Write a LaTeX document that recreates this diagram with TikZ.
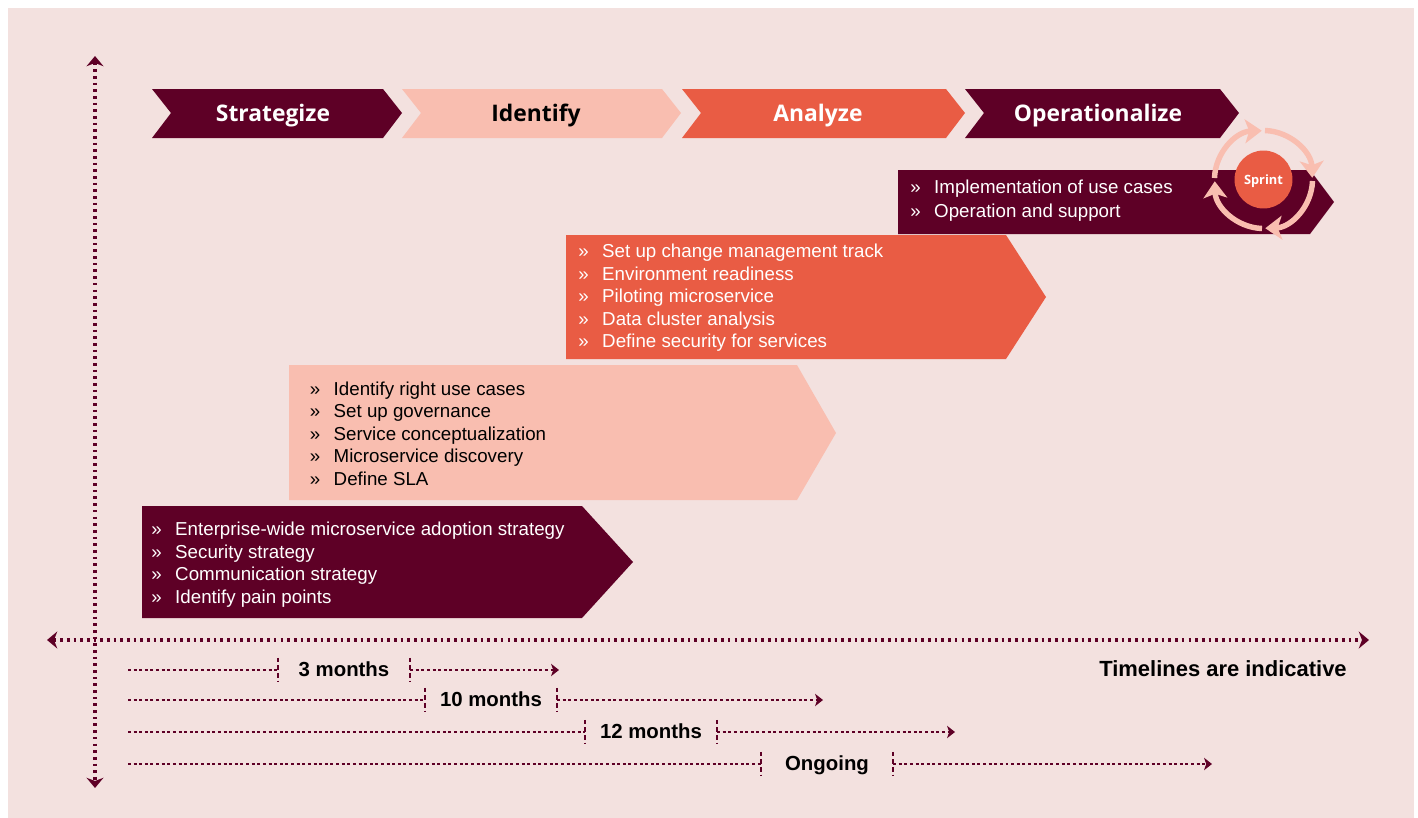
\documentclass[tikz,border=0pt]{standalone}
\usepackage{fontspec}
\setmainfont{Liberation Sans}
\newfontfamily\headfont{Open Sans}
\usetikzlibrary{arrows.meta}
\definecolor{blush}{HTML}{F3E1DF}
\definecolor{wine}{HTML}{5E0026}
\definecolor{coral}{HTML}{E95C44}
\definecolor{peach}{HTML}{F9BEB0}
\newcommand{\itm}{\makebox[13.6pt][l]{»}}

\begin{document}
\begin{tikzpicture}[x=0.02cm, y=-0.02cm]
	\tikzstyle{head} = [font=\headfont\bfseries\fontsize{13}{16}\selectfont, inner sep=0pt, text height=9.3pt, text depth=0pt]
	\tikzstyle{items} = [anchor=west, align=left, inner sep=0pt, font=\fontsize{10.66}{12.85}\selectfont]
	\tikzstyle{span} = [font=\bfseries\fontsize{11.6}{14}\selectfont, inner sep=0pt, minimum width=74.8pt, minimum height=13.4pt, text height=7.3pt, text depth=0pt]
	\tikzstyle{axis} = [draw=wine, line width=1.8pt, dash pattern=on 1.5pt off 2.3pt, {Stealth[length=5.8pt, width=9.6pt, inset=1.8pt]}-{Stealth[length=5.8pt, width=9.6pt, inset=1.8pt]}]
	\tikzstyle{tline} = [draw=wine, line width=0.75pt, dash pattern=on 1.7pt off 1.5pt]
	\tikzstyle{tick} = [draw=wine, line width=0.75pt, dash pattern=on 2.6pt off 1.7pt]
	\tikzstyle{ring} = [draw=peach, line width=3.1pt, -{Stealth[length=9.5pt, width=13.5pt, inset=2.4pt]}]
	\useasboundingbox (0,0) rectangle (1418,818);
	\fill[white] (0,0) rectangle (1418,818);
	\fill[blush] (8,8) rectangle (1414,818);
	% axes
	\coordinate (top) at (95,56);
	\coordinate (bottom) at (95,788);
	\coordinate (left) at (47,640);
	\coordinate (right) at (1369,640);
	\draw [axis] (top)--(bottom);
	\draw [axis] (left)--(right);
	% phase banners
	\fill[wine] (152,89)--(383,89)--(402,113)--(383,138)--(152,138)--(171,113)--cycle;
	\fill[peach] (402,89)--(662,89)--(681,113)--(662,138)--(402,138)--(421,113)--cycle;
	\fill[coral] (682,89)--(946,89)--(965,113)--(946,138)--(682,138)--(701,113)--cycle;
	\fill[wine] (965,89)--(1220,89)--(1239,113)--(1220,138)--(965,138)--(984,113)--cycle;
	\node[head, text=white] (strategize) at (273,113) {Strategize};
	\node[head, text=black] (identify) at (536,113) {Identify};
	\node[head, text=white] (analyze) at (818,113) {Analyze};
	\node[head, text=white] (operationalize) at (1098,113) {Operationalize};
	% activity arrows
	\fill[wine] (142,506)--(582,506)--(633,562)--(582,618)--(142,618)--cycle;
	\fill[peach] (289,365)--(797,365)--(836,433)--(797,500)--(289,500)--cycle;
	\fill[coral] (566,235)--(1006,235)--(1046,297)--(1006,359)--(566,359)--cycle;
	\fill[wine] (898,170)--(1310,170)--(1334,202)--(1310,234)--(898,234)--cycle;
	\node[items, text=white] (list1) at (151,564.5) {\itm Enterprise-wide microservice adoption strategy\\\itm Security strategy\\\itm Communication strategy\\\itm Identify pain points};
	\node[items, text=black] (list2) at (309.5,433.5) {\itm Identify right use cases\\\itm Set up governance\\\itm Service conceptualization\\\itm Microservice discovery\\\itm Define SLA};
	\node[items, text=white] (list3) at (578,298) {\itm Set up change management track\\\itm Environment readiness\\\itm Piloting microservice\\\itm Data cluster analysis\\\itm Define security for services};
	\node[items, text=white] (list4) at (910,200.5) {\itm Implementation of use cases\\[0.8pt]\itm Operation and support};
	% sprint cycle
	\node[circle, fill=coral, text=white, minimum size=33pt, inner sep=0pt, text height=5.7pt, text depth=0pt, font=\headfont\bfseries\fontsize{7.3}{8}\selectfont] (sprint) at (1263.5,179.5) {Sprint};
	\coordinate (r1) at (1214.5,178);
	\coordinate (r2) at (1265,130.5);
	\coordinate (r3) at (1312.5,181);
	\coordinate (r4) at (1262,228.5);
	\draw [ring] (r1) arc[start angle=182, end angle=268, radius=49];
	\draw [ring] (r2) arc[start angle=272, end angle=358, radius=49];
	\draw [ring] (r3) arc[start angle=2, end angle=88, radius=49];
	\draw [ring] (r4) arc[start angle=92, end angle=178, radius=49];
	% timelines
	\coordinate (s1) at (128,670);
	\coordinate (s2) at (128,700);
	\coordinate (s3) at (128,732);
	\coordinate (s4) at (128,764);
	\coordinate (e1) at (559,670);
	\coordinate (e2) at (823,700);
	\coordinate (e3) at (955,732);
	\coordinate (e4) at (1212,764);
	\node[span] (m1) at (344,670) {3 months};
	\node[span] (m2) at (491,700) {10 months};
	\node[span] (m3) at (651,732) {12 months};
	\node[span] (m4) at (827,764) {Ongoing};
	\draw [tline] (s1)--(m1.west);
	\draw [tline] (s2)--(m2.west);
	\draw [tline] (s3)--(m3.west);
	\draw [tline] (s4)--(m4.west);
	\draw [tline, -{Stealth[length=4.5pt, width=7pt, inset=1.2pt]}] (m1.east)--(e1);
	\draw [tline, -{Stealth[length=4.5pt, width=7pt, inset=1.2pt]}] (m2.east)--(e2);
	\draw [tline, -{Stealth[length=4.5pt, width=7pt, inset=1.2pt]}] (m3.east)--(e3);
	\draw [tline, -{Stealth[length=4.5pt, width=7pt, inset=1.2pt]}] (m4.east)--(e4);
	\draw [tick] (m1.north west)--(m1.south west);
	\draw [tick] (m1.north east)--(m1.south east);
	\draw [tick] (m2.north west)--(m2.south west);
	\draw [tick] (m2.north east)--(m2.south east);
	\draw [tick] (m3.north west)--(m3.south west);
	\draw [tick] (m3.north east)--(m3.south east);
	\draw [tick] (m4.north west)--(m4.south west);
	\draw [tick] (m4.north east)--(m4.south east);
	\node[font=\bfseries\fontsize{12.5}{15}\selectfont, inner sep=0pt, text height=8.6pt, text depth=0pt] (note) at (1223,669) {Timelines are indicative};
\end{tikzpicture}
\end{document}
